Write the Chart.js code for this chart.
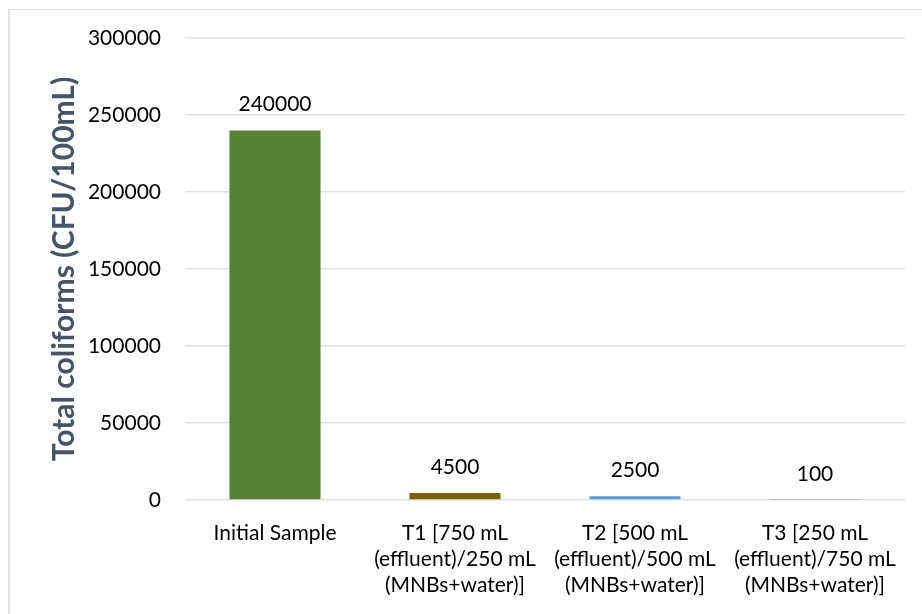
<!DOCTYPE html>
<html>
<head>
<meta charset="utf-8">
<script src="https://cdn.jsdelivr.net/npm/chart.js@4.4.1/dist/chart.umd.min.js"></script>
<style>
    html, body { margin: 0; padding: 0; background: #ffffff; }
    #wrap { position: relative; width: 922px; height: 614px; overflow: hidden; }
    #frame {
        position: absolute; left: 8px; top: 9px; width: 1000px; height: 700px;
        border-left: 2px solid #e0e4ea; border-top: 1px solid #e0e4ea;
    }
    #coliformChart { position: absolute; left: 0; top: 0; }
</style>
</head>
<body>
<div id="wrap">
    <div id="frame"></div>
    <canvas id="coliformChart" width="922" height="614"></canvas>
</div>
<script>
// Data block
const sampleLabels = [
    'Initial Sample',
    ['T1 [750 mL', '(effluent)/250 mL', '(MNBs+water)]'],
    ['T2 [500 mL', '(effluent)/500 mL', '(MNBs+water)]'],
    ['T3 [250 mL', '(effluent)/750 mL', '(MNBs+water)]']
];
const coliformValues = [240000, 4500, 2500, 100];
const barColors = ['#548235', '#7F6000', '#5B9BD5', '#A5A5A5'];
const yTicks = [0, 50000, 100000, 150000, 200000, 250000, 300000];

const fontFamily = 'Lato, "Open Sans", sans-serif';

const coliformData = {
    labels: sampleLabels,
    datasets: [{
        label: 'Total coliforms',
        data: coliformValues,
        backgroundColor: barColors,
        borderWidth: 0,
        categoryPercentage: 1.0,
        barPercentage: 0.506
    }]
};

// Value labels above each bar (no datalabels plugin offline)
const barValueLabels = {
    id: 'barValueLabels',
    afterDatasetsDraw(chart) {
        const ctx = chart.ctx;
        const meta = chart.getDatasetMeta(0);
        ctx.save();
        ctx.font = '21px ' + fontFamily;
        ctx.fillStyle = '#000000';
        ctx.textAlign = 'center';
        ctx.textBaseline = 'middle';
        meta.data.forEach((bar, i) => {
            ctx.fillText(String(coliformValues[i]), bar.x, bar.y - 26);
        });
        ctx.restore();
    }
};

const coliformConfig = {
    type: 'bar',
    data: coliformData,
    options: {
        responsive: false,
        animation: false,
        layout: {
            padding: {left: 0, top: 38, right: 17, bottom: 0}
        },
        plugins: {
            legend: { display: false },
            tooltip: { enabled: false }
        },
        scales: {
            x: {
                afterFit(scale) {
                    // room under the plot for the three-line labels
                    scale.height = 114;
                },
                grid: { display: false, drawTicks: false },
                border: { display: false },
                ticks: {
                    autoSkip: false,
                    maxRotation: 0,
                    minRotation: 0,
                    padding: 20,
                    color: '#000000',
                    font: { family: fontFamily, size: 21, lineHeight: 1.24 }
                }
            },
            y: {
                min: 0,
                max: 300000,
                afterBuildTicks(scale) {
                    scale.ticks = yTicks.map(v => ({value: v}));
                },
                afterFit(scale) {
                    // fixed gutter so the plot starts where the reference does
                    scale.width = 185;
                },
                grid: {
                    color: '#dde1e7',
                    lineWidth: 1.5,
                    drawTicks: false
                },
                border: { display: false },
                ticks: {
                    padding: 24,
                    color: '#000000',
                    font: { family: fontFamily, size: 21 },
                    callback: (value) => String(value)
                },
                title: {
                    display: true,
                    text: 'Total coliforms (CFU/100mL)',
                    color: '#44546A',
                    padding: {top: 46, bottom: 0},
                    font: { family: fontFamily, size: 30, weight: 'bold', lineHeight: 1.2 }
                }
            }
        }
    },
    plugins: [barValueLabels]
};

const coliformChart = new Chart(
    document.getElementById('coliformChart'),
    coliformConfig
);
</script>
</body>
</html>
